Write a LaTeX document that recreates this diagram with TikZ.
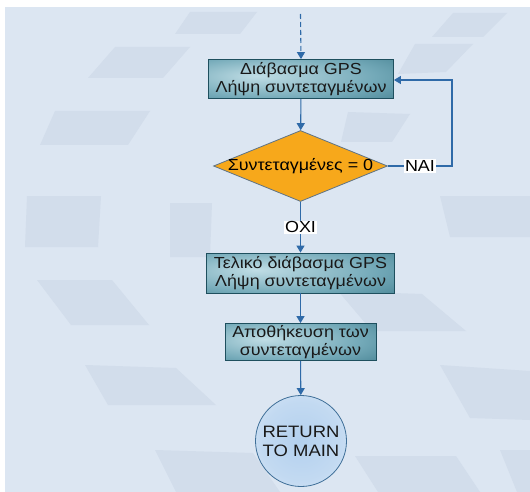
\documentclass[tikz,border=0pt]{standalone}
\usepackage{fontspec}
\setmainfont{Liberation Sans}[FakeStretch=1.12]
\usetikzlibrary{shapes.geometric,arrows.meta}

\definecolor{bgblue}{HTML}{DCE6F2}
\definecolor{bgtile}{HTML}{D2DDEB}
\definecolor{flow}{HTML}{2F6AA8}
\definecolor{teallight}{HTML}{C0DDE5}
\definecolor{tealmid}{HTML}{73A9B8}
\definecolor{tealdark}{HTML}{367485}
\definecolor{tealedge}{HTML}{1E4F5E}
\definecolor{decfill}{HTML}{F7A81B}
\definecolor{decedge}{HTML}{5E7386}
\definecolor{termedge}{HTML}{3F6F98}
\definecolor{termin}{HTML}{B3D0EE}
\definecolor{termout}{HTML}{F2F7FC}

% soft highlight inside the process boxes, slightly left of centre
\pgfdeclareradialshading{boxglow}{\pgfpoint{-12bp}{4bp}}{%
  color(0bp)=(teallight); color(28bp)=(tealmid); color(52bp)=(tealdark); color(80bp)=(tealdark)}
% pale glow for the terminal circle
\pgfdeclareradialshading{termglow}{\pgfpoint{0bp}{0bp}}{%
  color(0bp)=(termin); color(22bp)=(termin!75!termout); color(50bp)=(termout)}

\begin{document}
\begin{tikzpicture}[x=1pt,y=-1pt,
  font=\fontsize{16}{18}\selectfont,
  tile/.style={fill=bgtile, draw=none},
  process/.style={rectangle, draw=tealedge, line width=0.8pt, shading=boxglow,
    align=center, inner sep=0pt, text=black!90},
  decision/.style={diamond, draw=decedge, line width=0.8pt, fill=decfill,
    minimum width=174pt, minimum height=71pt, inner sep=0pt},
  terminal/.style={circle, draw=termedge, line width=0.8pt, shading=termglow,
    minimum size=91pt, inner sep=0pt, align=center, text=black!90,
    font=\fontsize{16.5}{19}\selectfont},
  flowline/.style={draw=flow, line width=1.1pt, -{Triangle[length=7pt,width=8pt]}},
  branch/.style={fill=white, inner sep=1pt, text=black},
]
\useasboundingbox (0,0) rectangle (530,492);

% page background
\fill[white] (0,0) rectangle (530,492);
\fill[bgblue] (5,7) rectangle (530,492);

% faint watermark tiles
\fill[tile] (115,47) -- (190,47) -- (163,78) -- (88,78) -- cycle;
\fill[tile] (190,12) -- (257,12) -- (240,34) -- (175,34) -- cycle;
\fill[tile] (453,13) -- (507,13) -- (483,37) -- (432,37) -- cycle;
\fill[tile] (415,44) -- (473,44) -- (446,72) -- (398,74) -- cycle;
\fill[tile] (55,111) -- (150,111) -- (128,145) -- (40,145) -- cycle;
\fill[tile] (348,112) -- (410,114) -- (392,142) -- (341,142) -- cycle;
\fill[tile] (27,196) -- (101,196) -- (98,247) -- (25,247) -- cycle;
\fill[tile] (170,203) -- (212,203) -- (210,257) -- (170,257) -- cycle;
\fill[tile] (440,196) -- (530,196) -- (530,237) -- (450,237) -- cycle;
\fill[tile] (37,280) -- (112,280) -- (149,325) -- (71,325) -- cycle;
\fill[tile] (338,291) -- (422,294) -- (466,331) -- (372,331) -- cycle;
\fill[tile] (440,365) -- (530,371) -- (530,420) -- (470,418) -- cycle;
\fill[tile] (85,365) -- (176,368) -- (216,405) -- (108,405) -- cycle;
\fill[tile] (155,450) -- (253,453) -- (280,492) -- (176,492) -- cycle;
\fill[tile] (355,456) -- (456,456) -- (480,492) -- (378,492) -- cycle;
\fill[tile] (500,450) -- (530,450) -- (530,492) -- (517,492) -- cycle;

% flowchart nodes
\node[process, minimum width=185pt, minimum height=39pt] (read) at (301,79)
  {Διάβασμα GPS\\Λήψη συντεταγμένων};
\node[decision, label={center:Συντεταγμένες = 0}] (test) at (300.5,166) {};
\node[process, minimum width=188pt, minimum height=40pt] (final) at (300.5,273)
  {Τελικό διάβασμα GPS\\Λήψη συντεταγμένων};
\node[process, minimum width=151pt, minimum height=37pt] (store) at (300.5,342)
  {Αποθήκευση των\\συντεταγμένων};
\node[terminal] (ret) at (301,441) {RETURN\\TO MAIN};

% entry and loop-back points
\coordinate (entry) at (300.5,14);
\coordinate (loopA) at (452,166);
\coordinate (loopB) at (452,80);

% connectors
\draw[flowline, dashed, dash pattern=on 5pt off 3pt] (entry) -- (read.north);
\draw[flowline] (read) -- (test);
\draw[flowline] (test.east) -- node[branch, pos=0.5] {NAI} (loopA) -- (loopB) -- (read.east |- loopB);
\draw[flowline] (test) -- node[branch, pos=0.5] {OXI} (final);
\draw[flowline] (final) -- (store);
\draw[flowline] (store) -- (ret);
\end{tikzpicture}
\end{document}
